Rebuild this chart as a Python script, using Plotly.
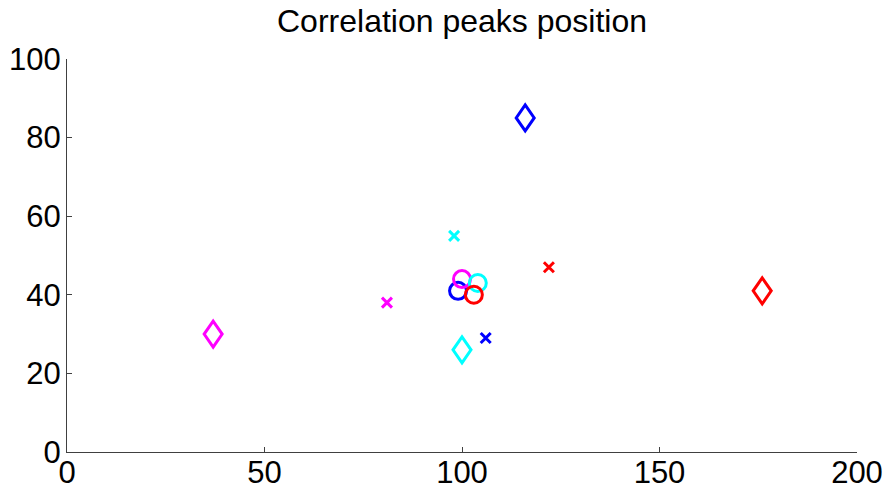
import plotly.graph_objects as go

# Peak positions (x, y) per channel, one entry per estimator: circle, cross, diamond
channels = ["blue", "magenta", "cyan", "red"]
colors = {"blue": "#0000FF", "magenta": "#FF00FF", "cyan": "#00FFFF", "red": "#FF0000"}

circle_x = [99, 100, 104, 103]
circle_y = [41, 44, 43, 40]

cross_x = [106, 81, 98, 122]
cross_y = [29, 38, 55, 47]

diamond_x = [116, 37, 100, 176]
diamond_y = [85, 30, 26, 41]

x_ticks = [0, 50, 100, 150, 200]
y_ticks = [0, 20, 40, 60, 80, 100]

# Tall diamond marker outline, in pixels around its anchor point
DIAMOND_PATH = "M 0,-13 L 9,0 L 0,13 L -9,0 Z"

fig = go.Figure()

point_colors = [colors[c] for c in channels]

# invisible carrier trace so the diamonds still get hover labels
fig.add_trace(go.Scatter(
    x=diamond_x, y=diamond_y, mode="markers",
    marker=dict(size=20, color="rgba(0,0,0,0)"),
    showlegend=False, hoverinfo="x+y"))

for xv, yv, col in zip(diamond_x, diamond_y, point_colors):
    fig.add_shape(
        type="path", path=DIAMOND_PATH,
        xref="x", yref="y", xsizemode="pixel", ysizemode="pixel",
        xanchor=xv, yanchor=yv,
        line=dict(color=col, width=3), fillcolor="rgba(0,0,0,0)",
        layer="above")

fig.add_trace(go.Scatter(
    x=cross_x, y=cross_y, mode="markers",
    marker=dict(symbol="x-thin-open", size=10, color=point_colors,
                line=dict(width=3, color=point_colors)),
    showlegend=False, hoverinfo="x+y"))

fig.add_trace(go.Scatter(
    x=circle_x, y=circle_y, mode="markers",
    marker=dict(symbol="circle-open", size=17, color=point_colors,
                line=dict(width=3, color=point_colors)),
    showlegend=False, hoverinfo="x+y"))

axis_style = dict(
    showgrid=False, zeroline=False, showline=True, linecolor="#404040",
    linewidth=1, mirror=False, ticks="inside", ticklen=5, tickwidth=1,
    tickcolor="#404040", automargin=False,
    tickfont=dict(family="Liberation Sans, Arial, sans-serif", size=31, color="black"),
)

fig.update_xaxes(range=[0, 200], tickvals=x_ticks, ticklabelstandoff=-7, **axis_style)
fig.update_yaxes(range=[0, 100], tickvals=y_ticks, ticklabelstandoff=-1, **axis_style)

fig.update_layout(
    width=886, height=490,
    margin=dict(l=67, r=29, t=59, b=38),
    paper_bgcolor="white", plot_bgcolor="white",
    title=dict(text="Correlation peaks position", x=462 / 886, xanchor="center",
               y=1 - 21 / 490, yanchor="middle", yref="container",
               font=dict(family="Liberation Sans, Arial, sans-serif", size=32,
                         color="black")),
)

fig.write_html("out.html")
